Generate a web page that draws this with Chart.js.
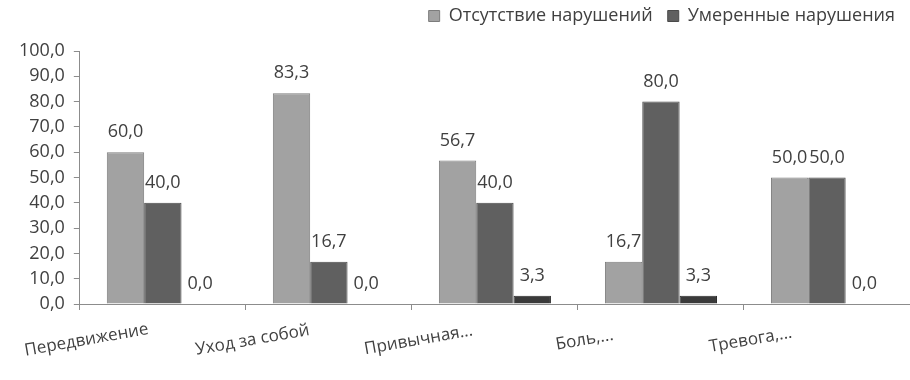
<!DOCTYPE html>
<html>
<head>
<meta charset="utf-8">
<script src="https://cdn.jsdelivr.net/npm/chart.js@4/dist/chart.umd.min.js"></script>
<style>
  body { margin: 0; background: #fff; }
  canvas { display: block; }
</style>
</head>
<body>
<canvas id="chart" width="910" height="380"></canvas>
<script>
var categories = ["Передвижение", "Уход за собой", "Привычная...", "Боль,...", "Тревога,..."]
var seriesNames = ["Отсутствие нарушений", "Умеренные нарушения", "Выраженные нарушения"]
var noDisorders = [60.0, 83.3, 56.7, 16.7, 50.0]
var moderate = [40.0, 16.7, 40.0, 80.0, 50.0]
var severe = [0.0, 0.0, 3.3, 3.3, 0.0]
var yTicks = [0, 10, 20, 30, 40, 50, 60, 70, 80, 90, 100]

var fontName = "'Open Sans', sans-serif"
var textColor = "#404040"

function fmt(v) {
    return v.toFixed(1).replace(".", ",")
}

// подписи значений над столбцами
var valueLabels = {
    id: "valueLabels",
    afterDatasetsDraw: function(chart) {
        var ctx = chart.ctx
        ctx.save()
        ctx.font = "18px " + fontName
        ctx.fillStyle = textColor
        ctx.textAlign = "center"
        ctx.textBaseline = "middle"
        chart.data.datasets.forEach(function(ds, i) {
            var meta = chart.getDatasetMeta(i)
            meta.data.forEach(function(bar, j) {
                ctx.fillText(fmt(ds.data[j]), bar.x, bar.y - 20)
            })
        })
        ctx.restore()
    }
}

// наклонные подписи категорий (как в Excel - центр подписи у левой границы категории)
var categoryLabels = {
    id: "categoryLabels",
    afterDraw: function(chart) {
        var ctx = chart.ctx
        var xs = chart.scales.x
        var step = xs.width / chart.data.labels.length
        ctx.save()
        ctx.font = "17px " + fontName
        ctx.fillStyle = textColor
        ctx.textAlign = "center"
        ctx.textBaseline = "middle"
        chart.data.labels.forEach(function(lbl, i) {
            ctx.save()
            ctx.translate(xs.getPixelForTick(i) - step * 0.46, xs.top + 36)
            ctx.rotate(-10 * Math.PI / 180)
            ctx.fillText(lbl, 0, 0)
            ctx.restore()
        })
        ctx.restore()
    }
}

// лишнее место под легендой
var legendSpace = {
    id: "legendSpace",
    beforeInit: function(chart) {
        var fit = chart.legend.fit
        chart.legend.fit = function() {
            fit.call(this)
            this.height += 16
        }
    }
}

var chart = new Chart(document.getElementById("chart"), {
    type: "bar",
    data: {
        labels: categories,
        datasets: [{
            label: seriesNames[0],
            data: noDisorders,
            backgroundColor: "#a2a2a2",
            borderColor: "#7c7c7c",
            borderWidth: 1
        }, {
            label: seriesNames[1],
            data: moderate,
            backgroundColor: "#606060",
            borderColor: "#4a4a4a",
            borderWidth: 1
        }, {
            label: seriesNames[2],
            data: severe,
            backgroundColor: "#3a3a3a",
            borderColor: "#2a2a2a",
            borderWidth: 1
        }]
    },
    options: {
        responsive: false,
        animation: false,
        layout: { padding: { top: -8, right: 0, left: 10, bottom: 70 } },
        datasets: {
            bar: { categoryPercentage: 0.675, barPercentage: 1.0 }
        },
        plugins: {
            tooltip: { enabled: false },
            legend: {
                position: "top",
                align: "end",
                labels: {
                    font: { family: fontName, size: 18 },
                    color: textColor,
                    boxWidth: 11,
                    boxHeight: 11,
                    padding: 15,
                    filter: function(item) { return item.datasetIndex < 2 }
                }
            }
        },
        scales: {
            x: {
                grid: {
                    display: true,
                    drawOnChartArea: false,
                    offset: true,
                    color: "#8c8c8c",
                    tickLength: 6
                },
                border: { color: "#8c8c8c", width: 1 },
                ticks: { display: false }
            },
            y: {
                min: 0,
                max: 100,
                afterBuildTicks: function(axis) {
                    axis.ticks = yTicks.map(function(v) { return { value: v } })
                },
                grid: {
                    display: true,
                    drawOnChartArea: false,
                    color: "#8c8c8c",
                    tickLength: 6
                },
                border: { color: "#8c8c8c", width: 1 },
                ticks: {
                    font: { family: fontName, size: 18 },
                    color: textColor,
                    padding: 9,
                    callback: function(v) { return fmt(v) }
                }
            }
        }
    },
    plugins: [valueLabels, categoryLabels, legendSpace]
})
</script>
</body>
</html>
